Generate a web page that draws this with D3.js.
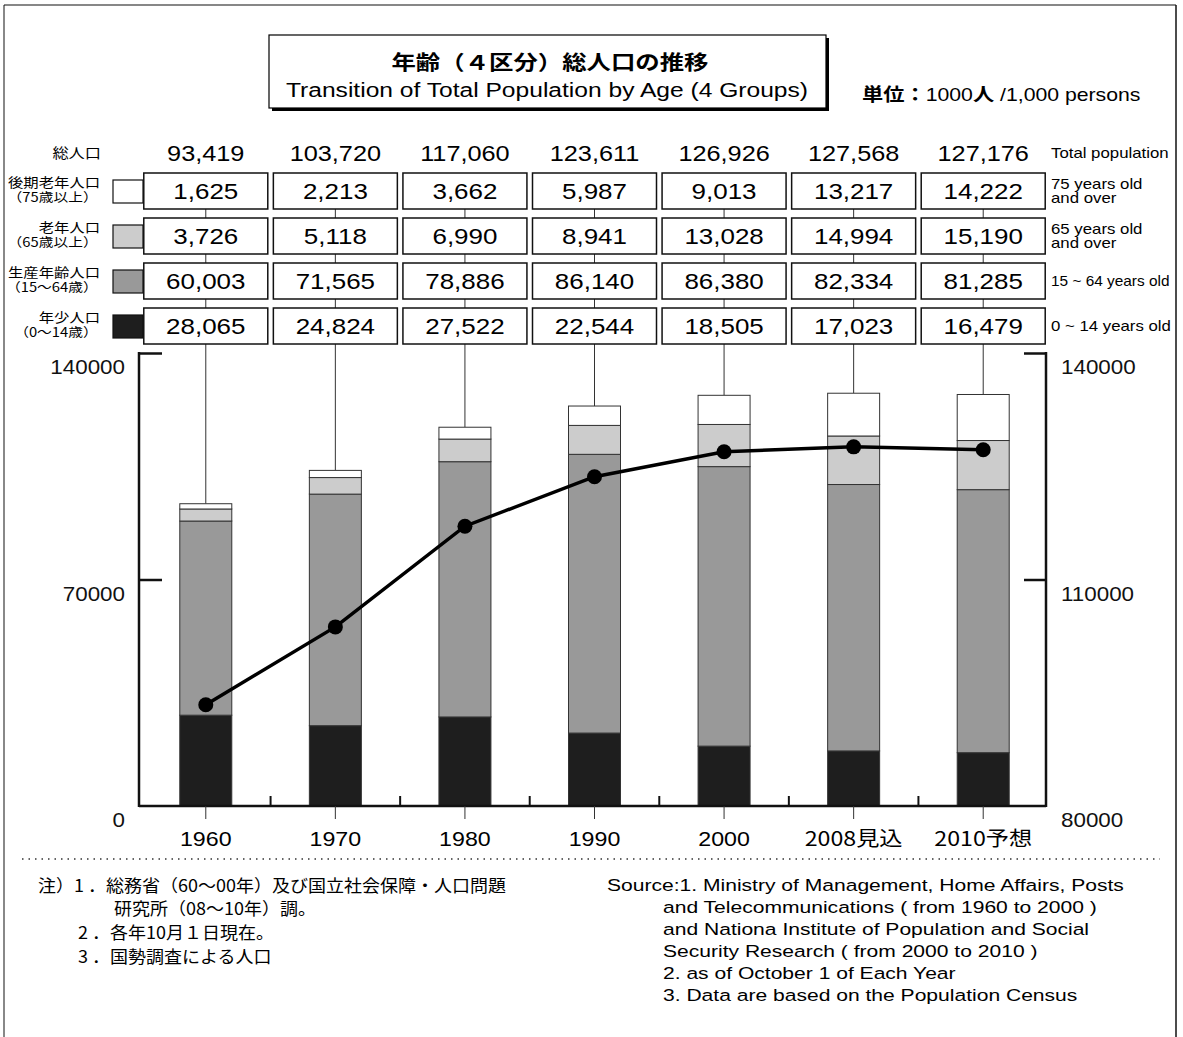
<!DOCTYPE html>
<html>
<head>
<meta charset="utf-8">
<script src="https://cdn.jsdelivr.net/npm/d3@7/dist/d3.min.js"></script>
<style>
  html, body { margin: 0; padding: 0; background: #fff; }
  svg { display: block; }
  .num { font-family: "Liberation Sans", Arial, sans-serif; }
  .jp { font-family: "Noto Sans CJK JP", sans-serif; }
</style>
</head>
<body>
<svg id="chart" width="1183" height="1037"></svg>
<script>
// Population by age group, thousands of persons
const years = ["1960", "1970", "1980", "1990", "2000", "2008見込", "2010予想"];
const total = [93419, 103720, 117060, 123611, 126926, 127568, 127176];
const age75plus = [1625, 2213, 3662, 5987, 9013, 13217, 14222];
const age65plus = [3726, 5118, 6990, 8941, 13028, 14994, 15190];
const age15to64 = [60003, 71565, 78886, 86140, 86380, 82334, 81285];
const age0to14 = [28065, 24824, 27522, 22544, 18505, 17023, 16479];

const leftTicks = [0, 70000, 140000];
const rightTicks = [80000, 110000, 140000];

// Groups in stacking order (bottom to top)
const groups = [
  { key: "a0", values: age0to14, fill: "#1e1e1e", jp: ["年少人口", "（0～14歳）"], en: ["0 ~ 14 years old"] },
  { key: "a15", values: age15to64, fill: "#999999", jp: ["生産年齢人口", "（15～64歳）"], en: ["15 ~ 64 years old"] },
  { key: "a65", values: age65plus, fill: "#cccccc", jp: ["老年人口", "（65歳以上）"], en: ["65 years old", "and over"] },
  { key: "a75", values: age75plus, fill: "#ffffff", jp: ["後期老年人口", "（75歳以上）"], en: ["75 years old", "and over"] }
];

const fmt = d3.format(",");
const svg = d3.select("#chart");

// Widen text horizontally about its anchor x
function stretch(sel, k) {
  sel.each(function () {
    const t = d3.select(this);
    const x = +t.attr("x") || 0;
    t.attr("transform", `translate(${x * (1 - k)},0) scale(${k},1)`);
  });
  return sel;
}

// Outer frame
svg.append("line").attr("x1", 4).attr("y1", 5).attr("x2", 4).attr("y2", 1037)
  .attr("stroke", "#888").attr("stroke-width", 2);
svg.append("line").attr("x1", 4).attr("y1", 5).attr("x2", 1176).attr("y2", 5)
  .attr("stroke", "#111").attr("stroke-width", 1.2);
svg.append("line").attr("x1", 1176).attr("y1", 5).attr("x2", 1176).attr("y2", 1037)
  .attr("stroke", "#111").attr("stroke-width", 1.5);

// Title box with drop shadow
svg.append("rect").attr("x", 272).attr("y", 38).attr("width", 557).attr("height", 73).attr("fill", "#000");
svg.append("rect").attr("x", 269).attr("y", 35).attr("width", 557).attr("height", 73)
  .attr("fill", "#fff").attr("stroke", "#000").attr("stroke-width", 1.2);
stretch(svg.append("text").attr("class", "jp").attr("x", 550).attr("y", 70)
  .attr("text-anchor", "middle").attr("font-size", 20).attr("font-weight", "bold")
  .text("年齢（４区分）総人口の推移"), 1.22);
stretch(svg.append("text").attr("class", "num").attr("x", 547).attr("y", 97)
  .attr("text-anchor", "middle").attr("font-size", 20)
  .text("Transition of Total Population by Age (4 Groups)"), 1.23);

// Unit note
const unit = svg.append("text").attr("x", 862).attr("y", 101).attr("font-size", 18);
unit.append("tspan").attr("class", "jp").attr("font-weight", "bold").text("単位：");
unit.append("tspan").attr("class", "num").text("1000");
unit.append("tspan").attr("class", "jp").attr("font-weight", "bold").text("人");
unit.append("tspan").attr("class", "num").text(" /1,000 persons");
stretch(unit, 1.18);

// Scales
const x = d3.scaleBand().domain(years).range([141, 1048]).padding(0);
const cx = d => x(d) + x.bandwidth() / 2;
const yL = d3.scaleLinear().domain([0, 140000]).range([806, 353]);
const yR = d3.scaleLinear().domain([80000, 140000]).range([806, 353]);
const barW = 52;
const boxW = 124, boxH = 36;

// Stacked values
const stackData = years.map((y, i) => {
  const o = { year: y };
  groups.forEach(g => { o[g.key] = g.values[i]; });
  return o;
});
const series = d3.stack().keys(groups.map(g => g.key))(stackData);

// Header: total population row
stretch(svg.append("text").attr("class", "jp").attr("x", 101).attr("y", 158)
  .attr("text-anchor", "end").attr("font-size", 13.5).text("総人口"), 1.2);
stretch(svg.append("text").attr("class", "num").attr("x", 1051).attr("y", 158)
  .attr("font-size", 14).text("Total population"), 1.2);
stretch(svg.append("g").selectAll("text").data(years).join("text")
  .attr("class", "num").attr("x", d => cx(d)).attr("y", 161)
  .attr("text-anchor", "middle").attr("font-size", 22)
  .text((d, i) => fmt(total[i])), 1.15);

// Connector lines from the value boxes down to each bar top
svg.append("g").selectAll("line").data(years).join("line")
  .attr("x1", d => cx(d)).attr("x2", d => cx(d))
  .attr("y1", 190).attr("y2", (d, i) => yL(total[i]))
  .attr("stroke", "#333").attr("stroke-width", 1);

// Header rows of value boxes (top row = 75+, bottom row = 0-14)
const rowTop = [308, 263, 218, 173];
groups.forEach((g, gi) => {
  const top = rowTop[gi];
  const row = svg.append("g");
  row.selectAll("rect").data(years).join("rect")
    .attr("x", d => cx(d) - boxW / 2).attr("y", top)
    .attr("width", boxW).attr("height", boxH)
    .attr("fill", "#fff").attr("stroke", "#111").attr("stroke-width", 1.5);
  stretch(row.selectAll("text").data(years).join("text")
    .attr("class", "num").attr("x", d => cx(d)).attr("y", top + 26)
    .attr("text-anchor", "middle").attr("font-size", 22)
    .text((d, i) => fmt(g.values[i])), 1.18);
  // legend swatch
  svg.append("rect").attr("x", 113).attr("y", top + 7).attr("width", 30).attr("height", 23)
    .attr("fill", g.fill).attr("stroke", "#111").attr("stroke-width", 1.2);
  // Japanese label, two lines
  const jt = svg.append("text").attr("class", "jp").attr("x", 100).attr("y", top + 14)
    .attr("text-anchor", "end").attr("font-size", 13);
  jt.append("tspan").attr("x", 100).text(g.jp[0]);
  jt.append("tspan").attr("x", 98).attr("dy", 15).attr("font-size", 12.5).text(g.jp[1]);
  stretch(jt, 1.18);
  // English label
  const et = svg.append("text").attr("class", "num").attr("x", 1051)
    .attr("y", g.en.length === 1 ? top + 23 : top + 16).attr("font-size", 14);
  g.en.forEach((s, k) => {
    et.append("tspan").attr("x", 1051).attr("dy", k === 0 ? 0 : 14).text(s);
  });
  stretch(et, g.key === "a15" ? 1.1 : 1.2);
});

// Stacked bars
svg.append("g").selectAll("g").data(series).join("g")
  .attr("fill", (s, i) => groups[i].fill)
  .selectAll("rect").data(s => s).join("rect")
  .attr("x", d => cx(d.data.year) - barW / 2)
  .attr("y", d => yL(d[1]))
  .attr("width", barW)
  .attr("height", d => yL(d[0]) - yL(d[1]))
  .attr("stroke", "#333").attr("stroke-width", 1);

// Left axis
const axL = svg.append("g").attr("transform", "translate(139,0)")
  .call(d3.axisLeft(yL).tickValues(leftTicks).tickSize(-23).tickPadding(14).tickFormat(d3.format("d")));
axL.select(".domain").remove();
axL.selectAll(".tick line").attr("stroke", "#111").attr("stroke-width", 2.5)
  .filter(d => d === 0).remove();
stretch(axL.selectAll(".tick text").attr("class", "num").attr("font-size", 20).attr("fill", "#111")
  .attr("dy", "1.05em").attr("x", -14), 1.12);
svg.append("line").attr("x1", 139).attr("x2", 139).attr("y1", 352).attr("y2", 807)
  .attr("stroke", "#111").attr("stroke-width", 2.5);

// Right axis
const axR = svg.append("g").attr("transform", "translate(1046,0)")
  .call(d3.axisRight(yR).tickValues(rightTicks).tickSize(-22).tickPadding(15).tickFormat(d3.format("d")));
axR.select(".domain").remove();
axR.selectAll(".tick line").attr("stroke", "#111").attr("stroke-width", 2.5)
  .filter(d => d === 80000).remove();
stretch(axR.selectAll(".tick text").attr("class", "num").attr("font-size", 20).attr("fill", "#111")
  .attr("dy", "1.05em").attr("x", 15), 1.12);
svg.append("line").attr("x1", 1046).attr("x2", 1046).attr("y1", 352).attr("y2", 807)
  .attr("stroke", "#111").attr("stroke-width", 2.5);

// Baseline with category ticks
svg.append("line").attr("x1", 139).attr("x2", 1046).attr("y1", 806).attr("y2", 806)
  .attr("stroke", "#111").attr("stroke-width", 2.5);
svg.append("g").selectAll("line").data(years.slice(1)).join("line")
  .attr("x1", d => x(d)).attr("x2", d => x(d)).attr("y1", 796).attr("y2", 806)
  .attr("stroke", "#111").attr("stroke-width", 2);
svg.append("g").selectAll("line").data(years).join("line")
  .attr("x1", d => cx(d)).attr("x2", d => cx(d)).attr("y1", 806).attr("y2", 819)
  .attr("stroke", "#333").attr("stroke-width", 1);
stretch(svg.append("g").selectAll("text").data(years).join("text")
  .attr("class", d => /^\d+$/.test(d) ? "num" : "jp")
  .attr("x", d => cx(d)).attr("y", 846)
  .attr("text-anchor", "middle").attr("font-size", 20)
  .text(d => d), 1.16);

// Total population line on the right axis
const line = d3.line().x((d, i) => cx(years[i])).y(d => yR(d));
svg.append("path").datum(total).attr("d", line)
  .attr("fill", "none").attr("stroke", "#000").attr("stroke-width", 3.5);
svg.append("g").selectAll("circle").data(total).join("circle")
  .attr("cx", (d, i) => cx(years[i])).attr("cy", d => yR(d)).attr("r", 7.5)
  .attr("fill", "#000");

// Dotted separator
svg.append("line").attr("x1", 22).attr("x2", 1160).attr("y1", 859).attr("y2", 859)
  .attr("stroke", "#333").attr("stroke-width", 1.5).attr("stroke-dasharray", "1.5,5");

// Notes (Japanese)
const notesJp = [
  { x: 38, y: 892, t: "注）1 ．総務省（60～00年）及び国立社会保障・人口問題" },
  { x: 114, y: 915, t: "研究所（08～10年）調。" },
  { x: 78, y: 939, t: "2 ．各年10月１日現在。" },
  { x: 78, y: 963, t: "3 ．国勢調査による人口" }
];
stretch(svg.append("g").selectAll("text").data(notesJp).join("text")
  .attr("class", "jp").attr("x", d => d.x).attr("y", d => d.y)
  .attr("font-size", 17).text(d => d.t), 1.06);

// Notes (English)
const notesEn = [
  { x: 607, y: 891, t: "Source:1. Ministry of Management, Home Affairs, Posts" },
  { x: 663, y: 913, t: "and Telecommunications ( from 1960 to 2000 )" },
  { x: 663, y: 935, t: "and Nationa Institute of Population and Social" },
  { x: 663, y: 957, t: "Security Research ( from 2000 to 2010 )" },
  { x: 663, y: 979, t: "2. as of October 1 of Each Year" },
  { x: 663, y: 1001, t: "3. Data are based on the Population Census" }
];
stretch(svg.append("g").selectAll("text").data(notesEn).join("text")
  .attr("class", "num").attr("x", d => d.x).attr("y", d => d.y)
  .attr("font-size", 17).text(d => d.t), 1.24);
</script>
</body>
</html>
